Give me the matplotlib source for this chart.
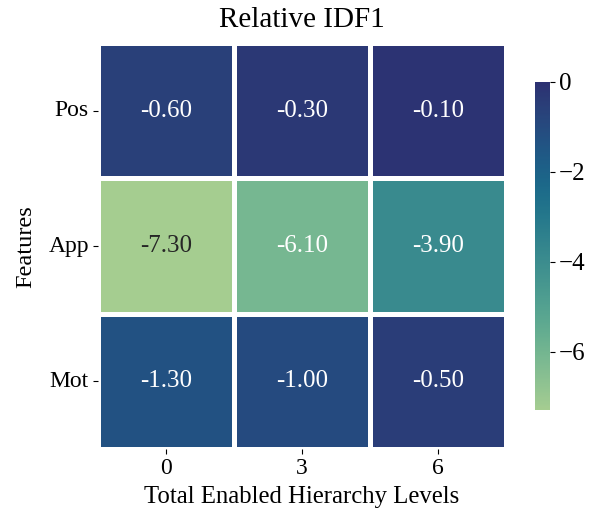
import matplotlib
matplotlib.use("Agg")
import matplotlib.pyplot as plt
import seaborn as sns
import numpy as np

features = ["Pos", "App", "Mot"]
levels = ["0", "3", "6"]
pos_vals = [-0.60, -0.30, -0.10]
app_vals = [-7.30, -6.10, -3.90]
mot_vals = [-1.30, -1.00, -0.50]

data = np.array([pos_vals, app_vals, mot_vals])

plt.rcParams['font.family'] = ['Liberation Serif', 'DejaVu Serif']

fig = plt.figure(figsize=(5.9, 5.08), dpi=100)
ax = fig.add_axes([0.166, 0.116, 0.692, 0.799])
cax = fig.add_axes([0.907, 0.193, 0.025, 0.646])

sns.heatmap(data, ax=ax, cbar_ax=cax, cmap="crest", annot=True, fmt=".2f",
            vmin=-7.3, vmax=0,
            linewidths=3.6, linecolor="white",
            xticklabels=levels, yticklabels=features,
            annot_kws={"fontsize": 18})

for t in ax.texts:
    if t.get_text() == "-6.10":
        t.set_color("white")

ax.set_title("Relative IDF1", fontsize=21, pad=12)
ax.set_xlabel("Total Enabled Hierarchy Levels", fontsize=17.8, labelpad=5)
ax.set_ylabel("Features", fontsize=17.5, labelpad=9)
ax.tick_params(labelsize=17, length=3.5, pad=3)
ax.set_yticklabels(features, rotation=0)
cax.tick_params(labelsize=18, length=3.5, pad=3)
cax.set_yticks([0, -2, -4, -6])

fig.savefig("out.png", dpi=100)
